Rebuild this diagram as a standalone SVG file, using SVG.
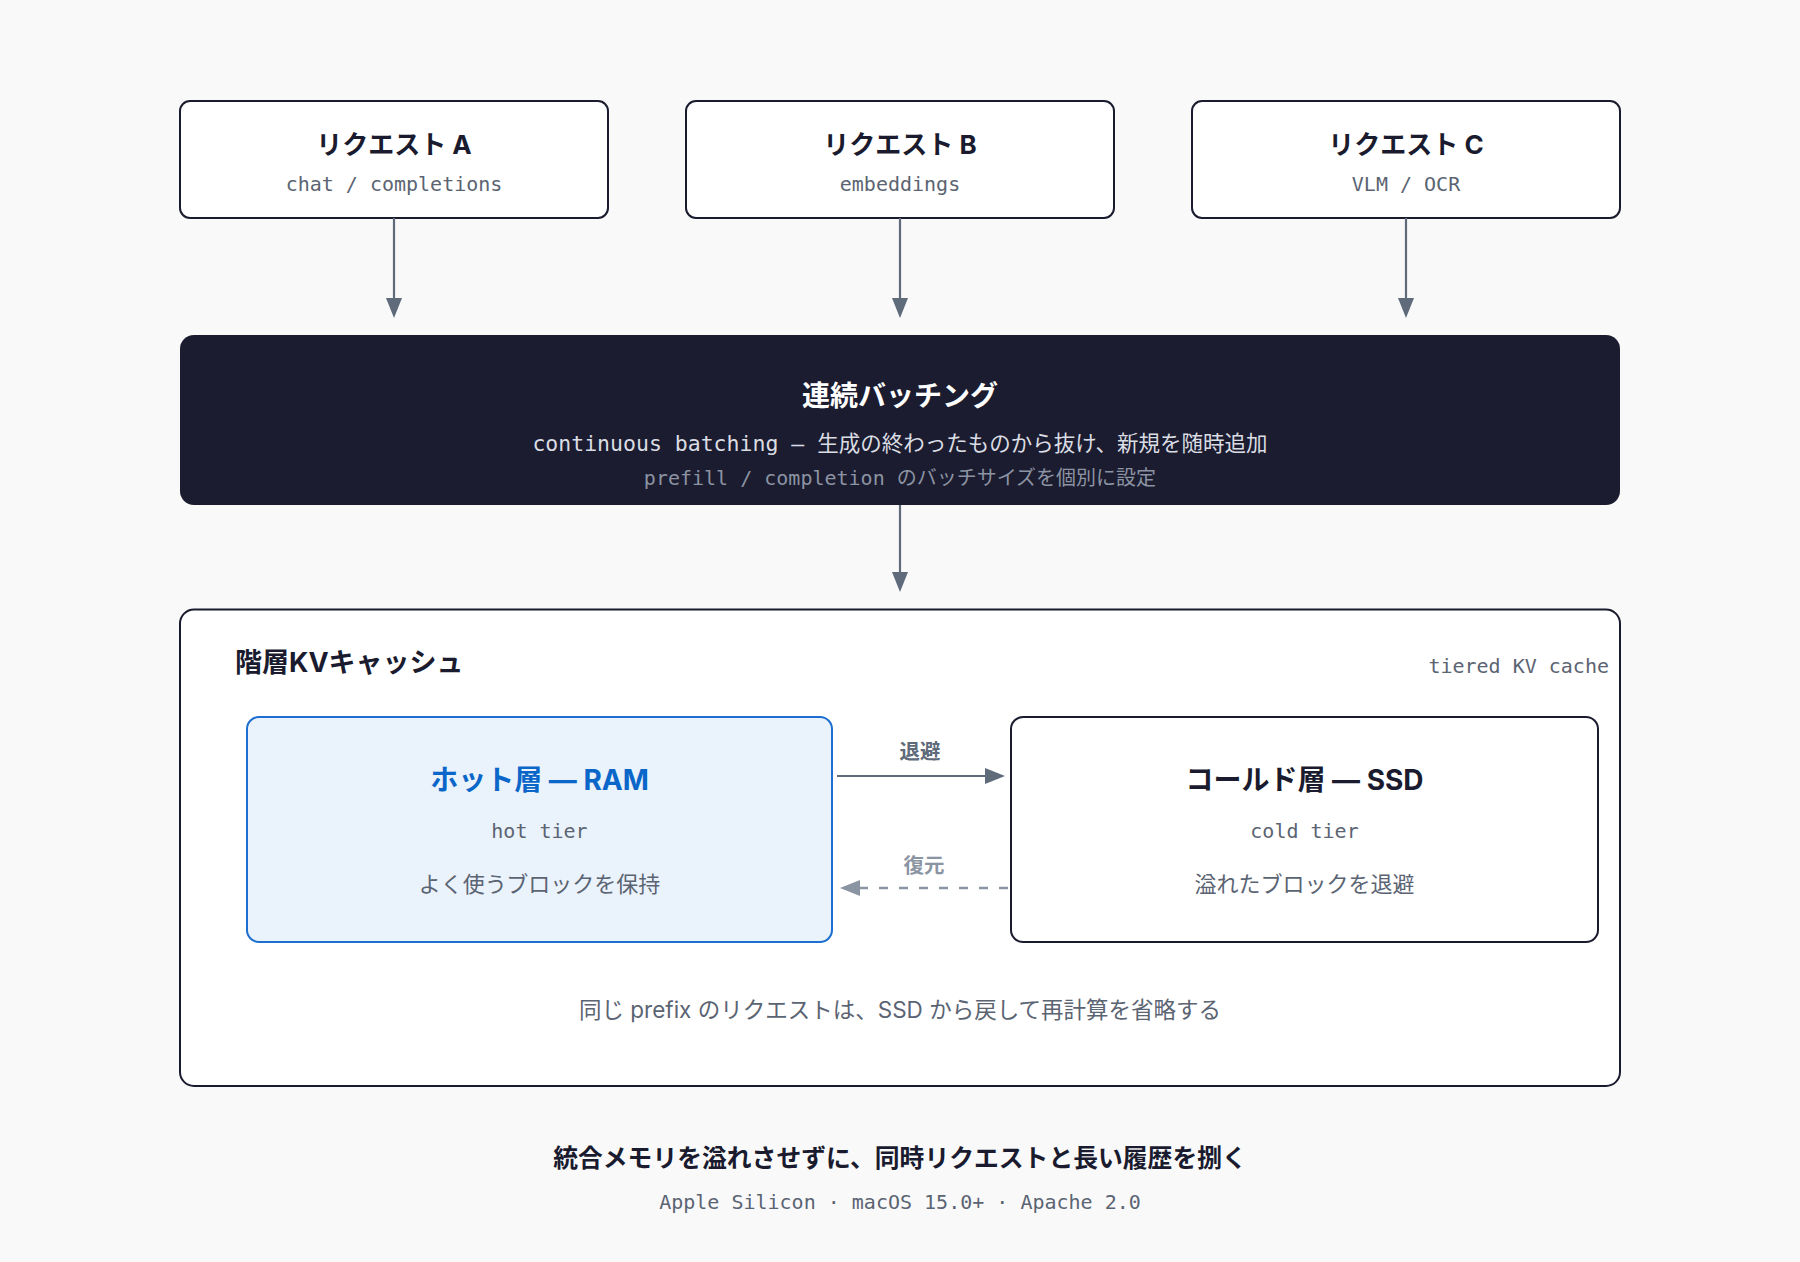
<svg xmlns="http://www.w3.org/2000/svg" width="1800" height="1262" viewBox="0 0 1800 1262">
<style>
.bg{fill:#f9f9fa}
.box{fill:#ffffff;stroke:#1a1b2e;stroke-width:2}
.ttl{font-family:Inter,"Noto Sans CJK JP",sans-serif;font-weight:700;fill:#1a1b2e;text-anchor:middle}
.mono{font-family:"DejaVu Sans Mono","Liberation Mono","Noto Sans CJK JP",monospace;fill:#5b6472;font-size:20px;text-anchor:middle}
.sans{font-family:Inter,"Noto Sans CJK JP",sans-serif;fill:#5b6472;text-anchor:middle}
.conn{stroke:#5f6b7a;stroke-width:2.2;fill:none}
.dash{stroke:#8b94a3;stroke-width:2.5;fill:none;stroke-dasharray:9 11}
</style>
<defs>
<marker id="ah" viewBox="0 0 20 16" markerWidth="20" markerHeight="16" refX="1" refY="8" orient="auto" markerUnits="userSpaceOnUse">
<path d="M0,0 L20,8 L0,16 z" fill="#5f6b7a"/>
</marker>
<marker id="ahl" viewBox="0 0 20 16" markerWidth="20" markerHeight="16" refX="1" refY="8" orient="auto" markerUnits="userSpaceOnUse">
<path d="M0,0 L20,8 L0,16 z" fill="#8b94a3"/>
</marker>
</defs>
<rect class="bg" x="0" y="0" width="1800" height="1262"/>

<g id="req-a">
<rect class="box" x="180" y="101" width="428" height="117" rx="10"/>
<text class="ttl" x="394" y="154" font-size="26">リクエスト A</text>
<text class="mono" x="394" y="191">chat / completions</text>
</g>
<g id="req-b">
<rect class="box" x="686" y="101" width="428" height="117" rx="10"/>
<text class="ttl" x="900" y="154" font-size="26">リクエスト B</text>
<text class="mono" x="900" y="191">embeddings</text>
</g>
<g id="req-c">
<rect class="box" x="1192" y="101" width="428" height="117" rx="10"/>
<text class="ttl" x="1406" y="154" font-size="26">リクエスト C</text>
<text class="mono" x="1406" y="191">VLM / OCR</text>
</g>

<g id="batching">
<rect x="180" y="335" width="1440" height="170" rx="14" fill="#1b1c2f"/>
<text class="ttl" x="900" y="406" font-size="28" style="fill:#ffffff">連続バッチング</text>
<text class="mono" x="900" y="451" style="font-size:21.5px;fill:#dadde3">continuous batching – 生成の終わったものから抜け、新規を随時追加</text>
<text class="mono" x="900" y="485" style="fill:#8c93a3">prefill / completion のバッチサイズを個別に設定</text>
</g>

<g id="kv-cache">
<rect class="box" x="180" y="609.5" width="1440" height="476.5" rx="14"/>
<text x="235" y="672" font-size="27" style="font-family:Inter,'Noto Sans CJK JP',sans-serif;font-weight:700;fill:#1a1b2e">階層KVキャッシュ</text>
<text class="mono" x="1609" y="673" style="text-anchor:end">tiered KV cache</text>
<text class="sans" x="900" y="1018" font-size="22.5">同じ prefix のリクエストは、SSD から戻して再計算を省略する</text>
</g>

<g id="hot-tier">
<rect x="247" y="717" width="585" height="225" rx="12" fill="#eaf2fb" stroke="#1c6fd0" stroke-width="2"/>
<text class="ttl" x="539.5" y="790" font-size="28" style="fill:#0a66c8">ホット層 — RAM</text>
<text class="mono" x="539.5" y="838">hot tier</text>
<text class="sans" x="539.5" y="892" font-size="22">よく使うブロックを保持</text>
</g>

<g id="cold-tier">
<rect class="box" x="1011" y="717" width="587" height="225" rx="12"/>
<text class="ttl" x="1304.5" y="790" font-size="28">コールド層 — SSD</text>
<text class="mono" x="1304.5" y="838">cold tier</text>
<text class="sans" x="1304.5" y="892" font-size="22">溢れたブロックを退避</text>
</g>

<g id="connectors">
<line class="conn" x1="394" y1="218" x2="394" y2="299" marker-end="url(#ah)"/>
<line class="conn" x1="900" y1="218" x2="900" y2="299" marker-end="url(#ah)"/>
<line class="conn" x1="1406" y1="218" x2="1406" y2="299" marker-end="url(#ah)"/>
<line class="conn" x1="900" y1="505" x2="900" y2="573" marker-end="url(#ah)"/>
<line class="conn" x1="837" y1="776" x2="986" y2="776" marker-end="url(#ah)"/>
<text class="ttl" x="920" y="759" font-size="20.5" style="fill:#5f6b7a">退避</text>
<line class="dash" x1="1008" y1="888" x2="859" y2="888" marker-end="url(#ahl)"/>
<text class="ttl" x="924" y="873" font-size="20.5" style="fill:#8b94a3">復元</text>
</g>

<g id="footer">
<text class="ttl" x="900" y="1167" font-size="24.8">統合メモリを溢れさせずに、同時リクエストと長い履歴を捌く</text>
<text class="mono" x="900" y="1209">Apple Silicon · macOS 15.0+ · Apache 2.0</text>
</g>
</svg>
